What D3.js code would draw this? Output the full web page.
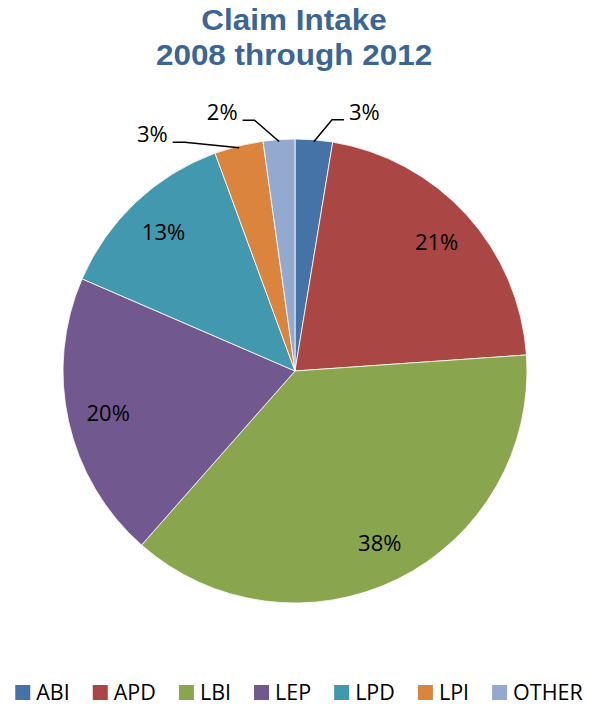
<!DOCTYPE html>
<meta charset="utf-8">
<style>
    body { margin: 0; background: #fff; }
    .title { font-family: "Liberation Sans", Arial, sans-serif; font-weight: bold; font-size: 29px; fill: #3a6595; }
    .lbl { font-family: "Open Sans", sans-serif; font-size: 22px; fill: #000; }
    .legend text { font-family: "Open Sans", sans-serif; font-size: 21.5px; fill: #000; }
    .leader { fill: none; stroke: #000; stroke-width: 1.5px; }
</style>
<body>
    <svg width="589" height="708"></svg>
</body>
<script src="https://d3js.org/d3.v7.min.js"></script>
<script>
    // data
    var categories = ["ABI", "APD", "LBI", "LEP", "LPD", "LPI", "OTHER"];
    var shares = [2.6, 21.3, 37.6, 20.0, 12.9, 3.4, 2.2];
    var colors = ["#4572a7", "#aa4643", "#89a54e", "#71588f", "#4198af", "#db843d", "#93a9cf"];
    var titleLines = ["Claim Intake", "2008 through 2012"];

    // small slices get an outside label with a leader line (angle tweak in degrees, side)
    var outside = {
        "ABI":   { turn: 3.7,  side: 1 },
        "LPI":   { turn: -11.7, side: -1 },
        "OTHER": { turn: -5.2, side: -1 }
    };

    var svg = d3.select("svg"),
        width = +svg.attr("width"),
        cx = 295, cy = 371, radius = 232;

    // title, slightly stretched like the original
    var tg = svg.append("g").attr("transform", "translate(294,0) scale(1.085,1)");
    tg.selectAll("text")
        .data(titleLines)
        .enter().append("text")
        .attr("class", "title")
        .attr("text-anchor", "middle")
        .attr("x", 0)
        .attr("y", function (d, i) { return 30 + i * 35; })
        .text(function (d) { return d; });

    var data = categories.map(function (c, i) { return { name: c, value: shares[i], color: colors[i] }; });

    var pie = d3.pie().sort(null).value(function (d) { return d.value; });
    var arcs = pie(data);
    var arc = d3.arc().innerRadius(0).outerRadius(radius);

    var g = svg.append("g").attr("transform", "translate(" + cx + "," + cy + ")");

    g.selectAll("path.slice")
        .data(arcs)
        .enter().append("path")
        .attr("class", "slice")
        .attr("d", arc)
        .attr("fill", function (d) { return d.data.color; })
        .attr("stroke", "#fff")
        .attr("stroke-width", 0.8);

    function pt(a, r) { return [Math.sin(a) * r, -Math.cos(a) * r]; }

    // inside labels
    var inner = arcs.filter(function (d) { return !outside[d.data.name]; });
    g.selectAll("text.in")
        .data(inner)
        .enter().append("text")
        .attr("class", "lbl")
        .attr("text-anchor", "middle")
        .attr("dy", "0.36em")
        .attr("transform", function (d) {
            var p = pt((d.startAngle + d.endAngle) / 2, radius * 0.825);
            return "translate(" + p + ")";
        })
        .text(function (d) { return Math.round(d.data.value) + "%"; });

    // outside labels with leader lines
    var outer = arcs.filter(function (d) { return outside[d.data.name]; });
    outer.forEach(function (d) {
        var o = outside[d.data.name];
        var mid = (d.startAngle + d.endAngle) / 2;
        var p0 = pt(mid, radius - 2);
        var p1 = pt(mid + o.turn * Math.PI / 180, radius + 22);
        var p2 = [p1[0] + o.side * 12, p1[1]];
        g.append("path")
            .attr("class", "leader")
            .attr("d", "M" + p0 + "L" + p1 + "L" + p2);
        g.append("text")
            .attr("class", "lbl")
            .attr("text-anchor", o.side > 0 ? "start" : "end")
            .attr("x", p2[0] + o.side * 5)
            .attr("y", p2[1])
            .text(Math.round(d.data.value) + "%");
    });

    // legend
    var legend = svg.append("g").attr("class", "legend");
    var items = legend.selectAll("g")
        .data(data)
        .enter().append("g");
    items.append("rect")
        .attr("width", 15).attr("height", 15)
        .attr("y", 685)
        .attr("fill", function (d) { return d.color; });
    items.append("text")
        .attr("x", 21)
        .attr("y", 700)
        .text(function (d) { return d.name; });

    var xpos = 0;
    items.each(function () {
        var w = d3.select(this).select("text").node().getComputedTextLength();
        d3.select(this).attr("transform", "translate(" + xpos + ",0)");
        xpos += 21 + w + 23;
    });
    var total = xpos - 23;
    legend.attr("transform", "translate(" + (299 - total / 2) + ",0)");
</script>
